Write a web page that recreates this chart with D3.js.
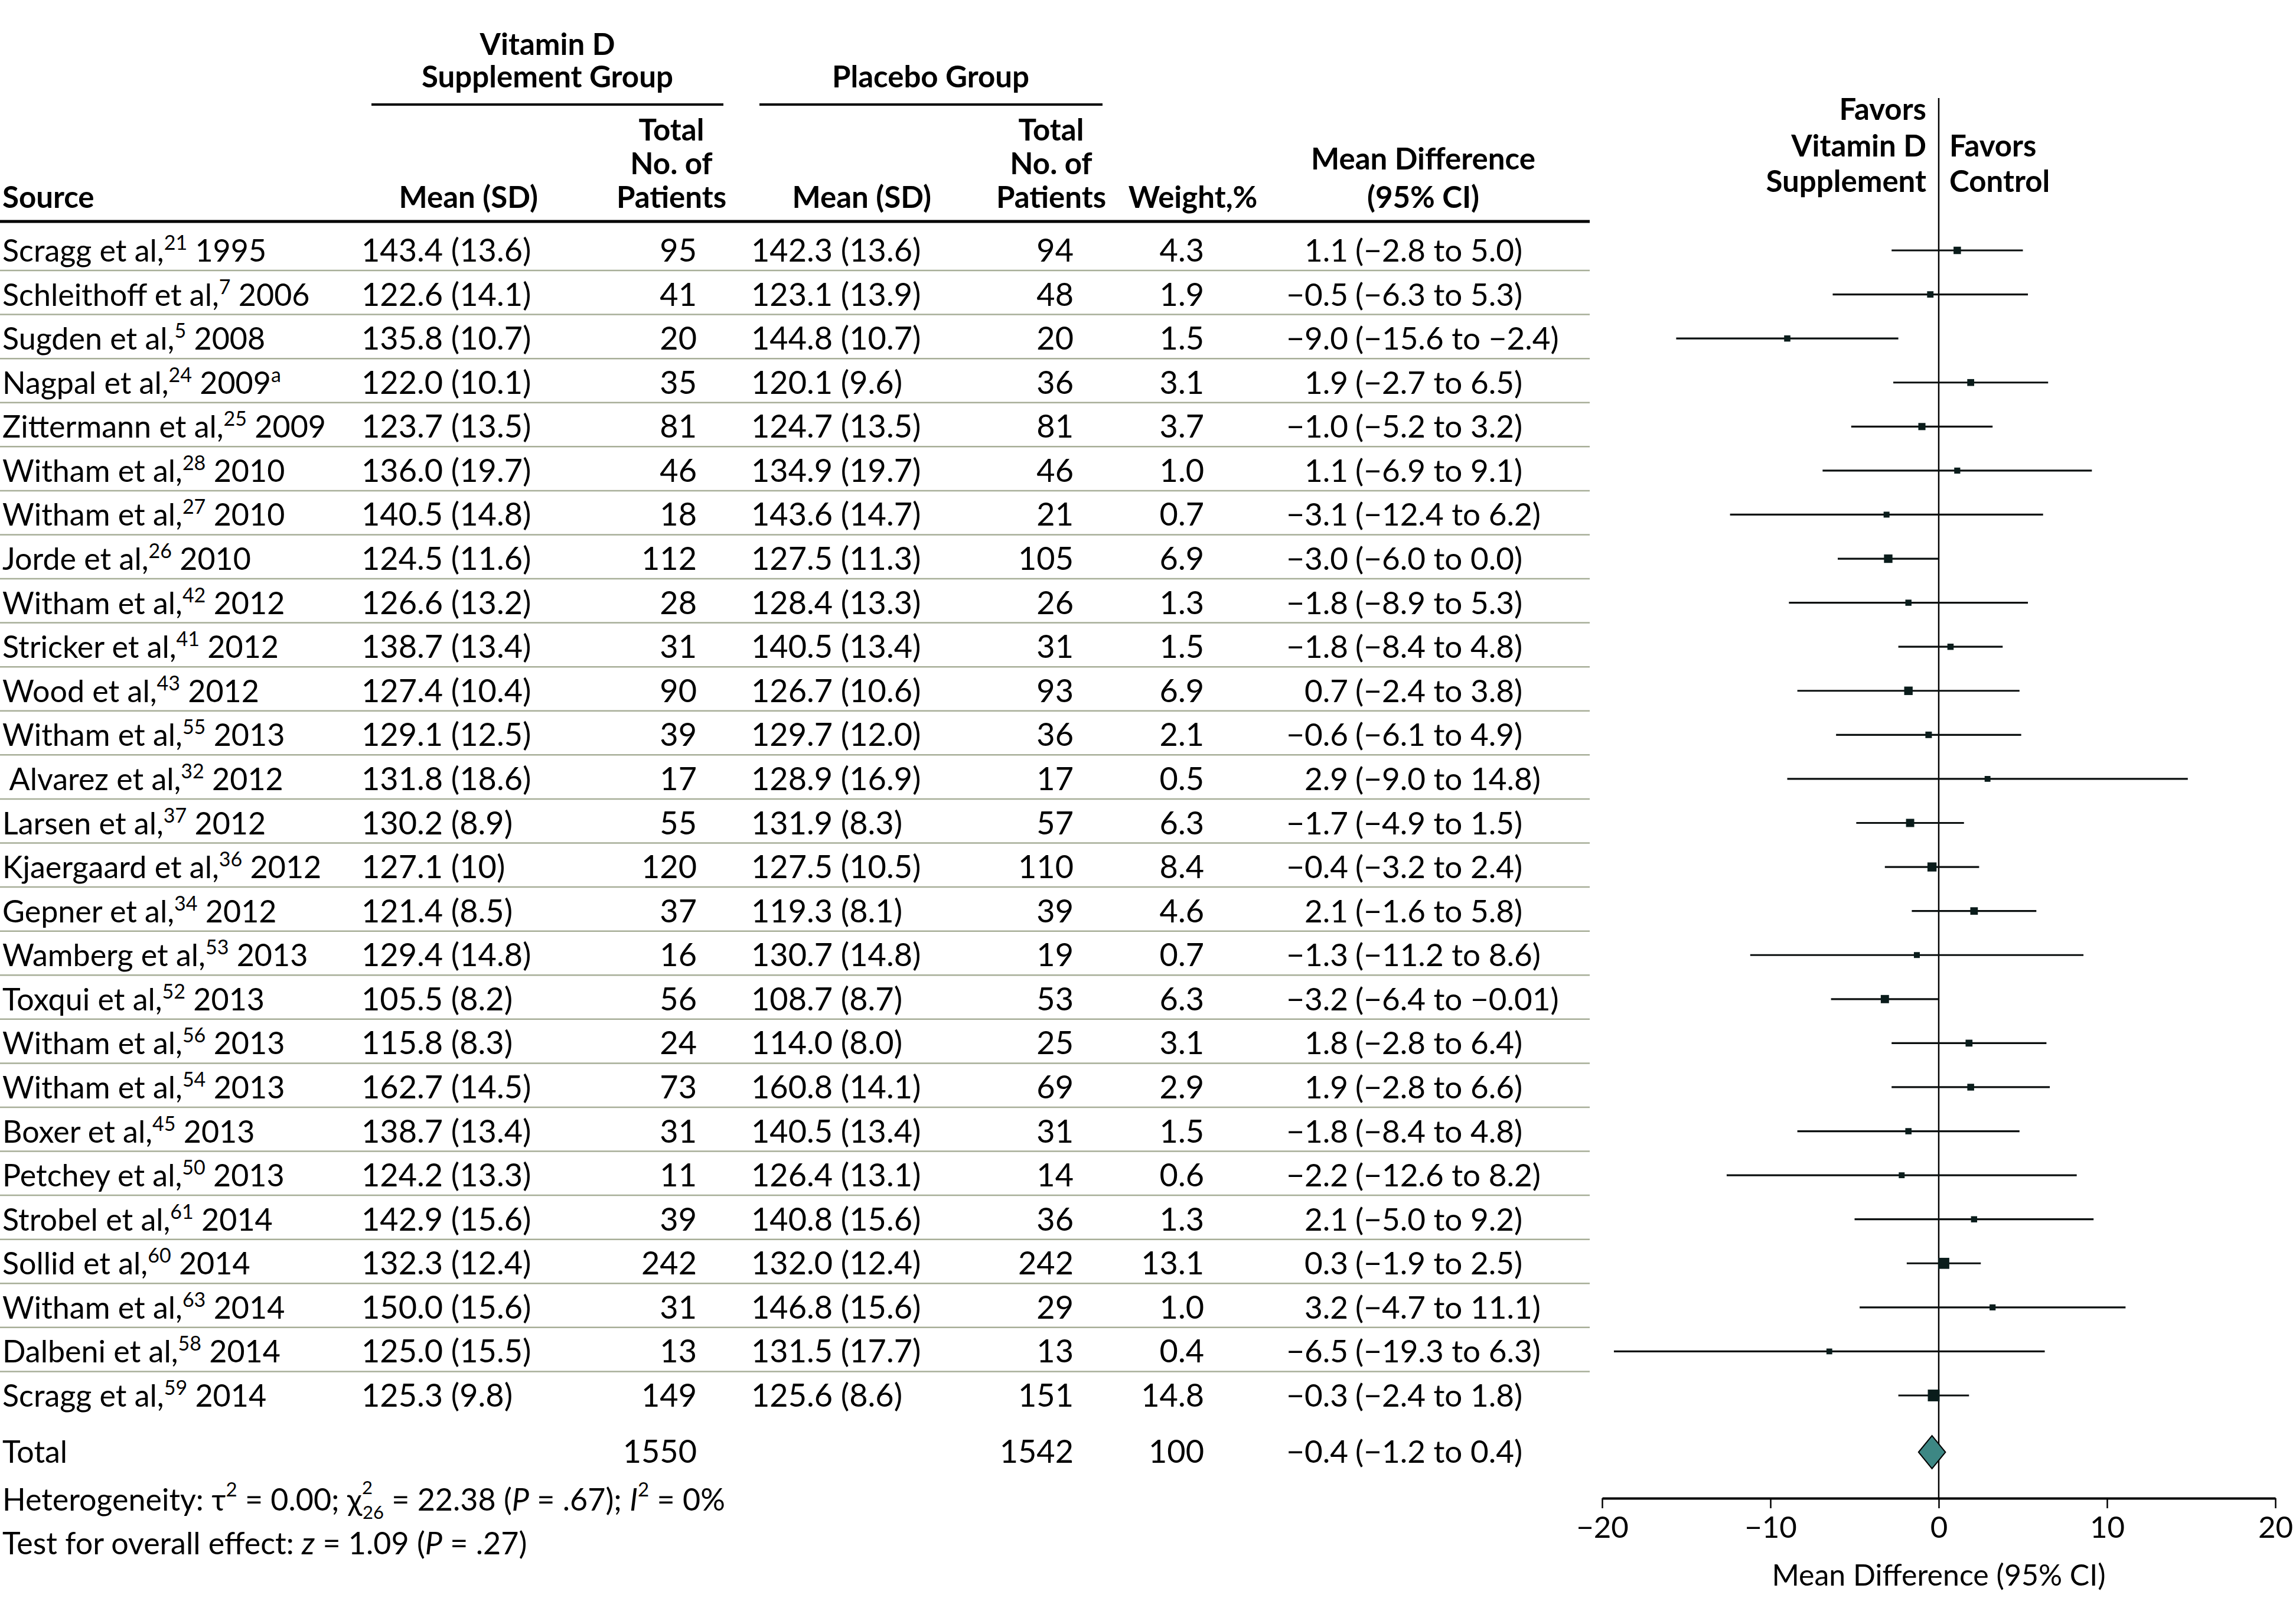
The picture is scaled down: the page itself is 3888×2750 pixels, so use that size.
<!DOCTYPE html>
<html>
<head>
<meta charset="utf-8">
<script src="https://cdn.jsdelivr.net/npm/d3@7/dist/d3.min.js"></script>
<style>
html,body{margin:0;padding:0;background:#fff;}
svg{display:block;}
text{font-family:Lato,"Open Sans",sans-serif;fill:#000;}
.hdr{font-weight:700;font-size:51px;}
.body{font-weight:400;font-size:52px;}
.num{font-size:54px;}
</style>
</head>
<body>
<svg id="chart" width="3888" height="2750"></svg>
<script>
// ---------------- data ----------------
const authors = ["Scragg et al,","Schleithoff et al,","Sugden et al,","Nagpal et al,","Zittermann et al,","Witham et al,","Witham et al,","Jorde et al,","Witham et al,","Stricker et al,","Wood et al,","Witham et al,","\u00a0Alvarez et al,","Larsen et al,","Kjaergaard et al,","Gepner et al,","Wamberg et al,","Toxqui et al,","Witham et al,","Witham et al,","Boxer et al,","Petchey et al,","Strobel et al,","Sollid et al,","Witham et al,","Dalbeni et al,","Scragg et al,"];
const refs = ["21","7","5","24","25","28","27","26","42","41","43","55","32","37","36","34","53","52","56","54","45","50","61","60","63","58","59"];
const years = ["1995","2006","2008","2009","2009","2010","2010","2010","2012","2012","2012","2013","2012","2012","2012","2012","2013","2013","2013","2013","2013","2013","2014","2014","2014","2014","2014"];
const yearNote = ["","","","a","","","","","","","","","","","","","","","","","","","","","","",""];
const vitMean = ["143.4","122.6","135.8","122.0","123.7","136.0","140.5","124.5","126.6","138.7","127.4","129.1","131.8","130.2","127.1","121.4","129.4","105.5","115.8","162.7","138.7","124.2","142.9","132.3","150.0","125.0","125.3"];
const vitSD = ["13.6","14.1","10.7","10.1","13.5","19.7","14.8","11.6","13.2","13.4","10.4","12.5","18.6","8.9","10","8.5","14.8","8.2","8.3","14.5","13.4","13.3","15.6","12.4","15.6","15.5","9.8"];
const vitN = [95,41,20,35,81,46,18,112,28,31,90,39,17,55,120,37,16,56,24,73,31,11,39,242,31,13,149];
const plaMean = ["142.3","123.1","144.8","120.1","124.7","134.9","143.6","127.5","128.4","140.5","126.7","129.7","128.9","131.9","127.5","119.3","130.7","108.7","114.0","160.8","140.5","126.4","140.8","132.0","146.8","131.5","125.6"];
const plaSD = ["13.6","13.9","10.7","9.6","13.5","19.7","14.7","11.3","13.3","13.4","10.6","12.0","16.9","8.3","10.5","8.1","14.8","8.7","8.0","14.1","13.4","13.1","15.6","12.4","15.6","17.7","8.6"];
const plaN = [94,48,20,36,81,46,21,105,26,31,93,36,17,57,110,39,19,53,25,69,31,14,36,242,29,13,151];
const weights = [4.3,1.9,1.5,3.1,3.7,1.0,0.7,6.9,1.3,1.5,6.9,2.1,0.5,6.3,8.4,4.6,0.7,6.3,3.1,2.9,1.5,0.6,1.3,13.1,1.0,0.4,14.8];
const mdText = ["1.1","\u22120.5","\u22129.0","1.9","\u22121.0","1.1","\u22123.1","\u22123.0","\u22121.8","\u22121.8","0.7","\u22120.6","2.9","\u22121.7","\u22120.4","2.1","\u22121.3","\u22123.2","1.8","1.9","\u22121.8","\u22122.2","2.1","0.3","3.2","\u22126.5","\u22120.3"];
const ciText = ["(\u22122.8 to 5.0)","(\u22126.3 to 5.3)","(\u221215.6 to \u22122.4)","(\u22122.7 to 6.5)","(\u22125.2 to 3.2)","(\u22126.9 to 9.1)","(\u221212.4 to 6.2)","(\u22126.0 to 0.0)","(\u22128.9 to 5.3)","(\u22128.4 to 4.8)","(\u22122.4 to 3.8)","(\u22126.1 to 4.9)","(\u22129.0 to 14.8)","(\u22124.9 to 1.5)","(\u22123.2 to 2.4)","(\u22121.6 to 5.8)","(\u221211.2 to 8.6)","(\u22126.4 to \u22120.01)","(\u22122.8 to 6.4)","(\u22122.8 to 6.6)","(\u22128.4 to 4.8)","(\u221212.6 to 8.2)","(\u22125.0 to 9.2)","(\u22121.9 to 2.5)","(\u22124.7 to 11.1)","(\u221219.3 to 6.3)","(\u22122.4 to 1.8)"];
// plotted estimates and intervals as drawn in the forest plot
const plotEst = [1.1,-0.5,-9.0,1.9,-1.0,1.1,-3.1,-3.0,-1.8,0.7,-1.8,-0.6,2.9,-1.7,-0.4,2.1,-1.3,-3.2,1.8,1.9,-1.8,-2.2,2.1,0.3,3.2,-6.5,-0.3];
const plotLo = [-2.8,-6.3,-15.6,-2.7,-5.2,-6.9,-12.4,-6.0,-8.9,-2.4,-8.4,-6.1,-9.0,-4.9,-3.2,-1.6,-11.2,-6.4,-2.8,-2.8,-8.4,-12.6,-5.0,-1.9,-4.7,-19.3,-2.4];
const plotHi = [5.0,5.3,-2.4,6.5,3.2,9.1,6.2,0.0,5.3,3.8,4.8,4.9,14.8,1.5,2.4,5.8,8.6,-0.01,6.4,6.6,4.8,8.2,9.2,2.5,11.1,6.3,1.8];
const total = {vitN:1550, plaN:1542, weight:100, md:"\u22120.4", ci:"(\u22121.2 to 0.4)", est:-0.4, lo:-1.2, hi:0.4};
const xTicks = [-20,-10,0,10,20];

// ---------------- layout ----------------
const svg = d3.select("#chart");
const nRows = authors.length;
const y = d3.scaleLinear().domain([0, nRows - 1]).range([424, 2363]);
const x = d3.scaleLinear().domain([-20, 20]).range([2713, 3853]);
const size = d3.scaleLinear().domain([0, 15]).range([9.5, 20]);
const totalY = 2459;
const tableRight = 2692;

const col = {src:4, vitMean:612, vitN:1180, plaMean:1272, plaN:1818, weight:2039, mdEnd:2283, ciStart:2295};

// header
const H = svg.append("g").attr("class","hdr");
H.append("text").attr("x",927).attr("y",93).attr("text-anchor","middle").text("Vitamin D");
H.append("text").attr("x",927).attr("y",148).attr("text-anchor","middle").text("Supplement Group");
H.append("text").attr("x",1576).attr("y",148).attr("text-anchor","middle").text("Placebo Group");
svg.append("line").attr("x1",629).attr("x2",1225).attr("y1",177).attr("y2",177).attr("stroke","#000").attr("stroke-width",4);
svg.append("line").attr("x1",1286).attr("x2",1867).attr("y1",177).attr("y2",177).attr("stroke","#000").attr("stroke-width",4);
H.append("text").attr("x",4).attr("y",352).text("Source");
H.append("text").attr("x",911).attr("y",352).attr("text-anchor","end").text("Mean (SD)");
H.append("text").attr("x",1577).attr("y",352).attr("text-anchor","end").text("Mean (SD)");
[[1137],[1780]].forEach(([cx]) => {
  [["Total",238],["No. of",295],["Patients",352]].forEach(([t,yy]) => {
    H.append("text").attr("x",cx).attr("y",yy).attr("text-anchor","middle").text(t);
  });
});
H.append("text").attr("x",2020).attr("y",352).attr("text-anchor","middle").text("Weight,%");
H.append("text").attr("x",2410).attr("y",287).attr("text-anchor","middle").text("Mean Difference");
H.append("text").attr("x",2410).attr("y",352).attr("text-anchor","middle").text("(95% CI)");
svg.append("line").attr("x1",0).attr("x2",tableRight).attr("y1",375).attr("y2",375).attr("stroke","#000").attr("stroke-width",5);

// Favors labels
H.append("text").attr("x",3262).attr("y",203).attr("text-anchor","end").text("Favors");
H.append("text").attr("x",3262).attr("y",265).attr("text-anchor","end").text("Vitamin D");
H.append("text").attr("x",3262).attr("y",325).attr("text-anchor","end").text("Supplement");
H.append("text").attr("x",3301).attr("y",265).text("Favors");
H.append("text").attr("x",3301).attr("y",325).text("Control");

// row separators
const idx = d3.range(nRows);
svg.append("g").selectAll("line").data(idx.slice(0, nRows - 1)).join("line")
  .attr("x1",0).attr("x2",tableRight)
  .attr("y1",i => y(i) + 34).attr("y2",i => y(i) + 34)
  .attr("stroke","#a7ae98").attr("stroke-width",2.5);

// table rows
const B = svg.append("g").attr("class","body");
const rows = B.selectAll("g.row").data(idx).join("g").attr("class","row")
  .attr("transform",i => `translate(0,${y(i) + 19})`);
const src = rows.append("text").attr("x",col.src).attr("y",0);
src.append("tspan").text(i => authors[i]);
src.append("tspan").attr("font-size",34).attr("dy",-20).text(i => refs[i]);
src.append("tspan").attr("dy",20).text(i => "\u00a0" + years[i]);
src.append("tspan").attr("font-size",34).attr("dy",-20).text(i => yearNote[i]);
rows.append("text").attr("class","num").attr("x",col.vitMean).text(i => `${vitMean[i]} (${vitSD[i]})`);
rows.append("text").attr("class","num").attr("x",col.vitN).attr("text-anchor","end").text(i => vitN[i]);
rows.append("text").attr("class","num").attr("x",col.plaMean).text(i => `${plaMean[i]} (${plaSD[i]})`);
rows.append("text").attr("class","num").attr("x",col.plaN).attr("text-anchor","end").text(i => plaN[i]);
rows.append("text").attr("class","num").attr("x",col.weight).attr("text-anchor","end").text(i => weights[i].toFixed(1));
rows.append("text").attr("x",col.mdEnd).attr("text-anchor","end").style("font-size","53px").text(i => mdText[i]);
rows.append("text").attr("x",col.ciStart).style("font-size","53px").text(i => ciText[i]);

// total row
const T = B.append("g").attr("transform",`translate(0,${totalY + 18})`);
T.append("text").attr("x",col.src).text("Total");
T.append("text").attr("class","num").attr("x",col.vitN).attr("text-anchor","end").text(total.vitN);
T.append("text").attr("class","num").attr("x",col.plaN).attr("text-anchor","end").text(total.plaN);
T.append("text").attr("class","num").attr("x",col.weight).attr("text-anchor","end").text(total.weight);
T.append("text").attr("x",col.mdEnd).attr("text-anchor","end").style("font-size","53px").text(total.md);
T.append("text").attr("x",col.ciStart).style("font-size","53px").text(total.ci);

// footnotes
const f1 = B.append("text").attr("x",4).attr("y",2558).style("font-size","52px");
f1.append("tspan").text("Heterogeneity: \u03c4");
f1.append("tspan").attr("font-size",33).attr("dy",-24).text("2");
f1.append("tspan").attr("dy",24).text(" = 0.00; \u03c7");
f1.append("tspan").attr("font-size",31).attr("dy",-28).text("2");
f1.append("tspan").attr("font-size",31).attr("dx",-17).attr("dy",42).text("26");
f1.append("tspan").attr("dy",-14).text(" = 22.38 (");
f1.append("tspan").attr("font-style","italic").text("P");
f1.append("tspan").text(" = .67); ");
f1.append("tspan").attr("font-style","italic").text("I");
f1.append("tspan").attr("font-size",33).attr("dy",-24).text("2");
f1.append("tspan").attr("dy",24).text(" = 0%");
const f2 = B.append("text").attr("x",4).attr("y",2632).style("font-size","52px");
f2.append("tspan").text("Test for overall effect: ");
f2.append("tspan").attr("font-style","italic").text("z");
f2.append("tspan").text(" = 1.09 (");
f2.append("tspan").attr("font-style","italic").text("P");
f2.append("tspan").text(" = .27)");

// ---------------- forest plot ----------------
const axisY = 2537;
svg.append("line").attr("x1",x(0)).attr("x2",x(0)).attr("y1",166).attr("y2",axisY)
  .attr("stroke","#000").attr("stroke-width",2.5);

const P = svg.append("g");
P.selectAll("line.ci").data(idx).join("line").attr("class","ci")
  .attr("x1",i => x(plotLo[i])).attr("x2",i => x(plotHi[i]))
  .attr("y1",i => y(i)).attr("y2",i => y(i))
  .attr("stroke","#0b0f0f").attr("stroke-width",3.2);
P.selectAll("rect.pt").data(idx).join("rect").attr("class","pt")
  .attr("x",i => x(plotEst[i]) - size(weights[i]) / 2)
  .attr("y",i => y(i) - size(weights[i]) / 2)
  .attr("width",i => size(weights[i])).attr("height",i => size(weights[i]))
  .attr("fill","#0a1c1b");

// diamond
const dh = 28;
P.append("path")
  .attr("d",`M${x(total.lo)},${totalY} L${x(total.est)},${totalY - dh} L${x(total.hi)},${totalY} L${x(total.est)},${totalY + dh} Z`)
  .attr("fill","#3d8784").attr("stroke","#000").attr("stroke-width",2);

// axis
const axis = d3.axisBottom(x).tickValues(xTicks).tickSize(17).tickSizeOuter(0).tickPadding(14)
  .tickFormat(d => d < 0 ? "\u2212" + Math.abs(d) : String(d));
const ag = svg.append("g").attr("transform",`translate(0,${axisY})`).call(axis);
ag.select(".domain").attr("stroke","#000").attr("stroke-width",4);
ag.selectAll(".tick line").attr("stroke","#000").attr("stroke-width",2.5);
ag.selectAll(".tick text").attr("font-family","Lato, sans-serif").attr("font-size",51).attr("fill","#000");
svg.append("text").attr("class","body").attr("x",x(0)).attr("y",2685).attr("text-anchor","middle")
  .style("font-size","50px").text("Mean Difference (95% CI)");
</script>
</body>
</html>
